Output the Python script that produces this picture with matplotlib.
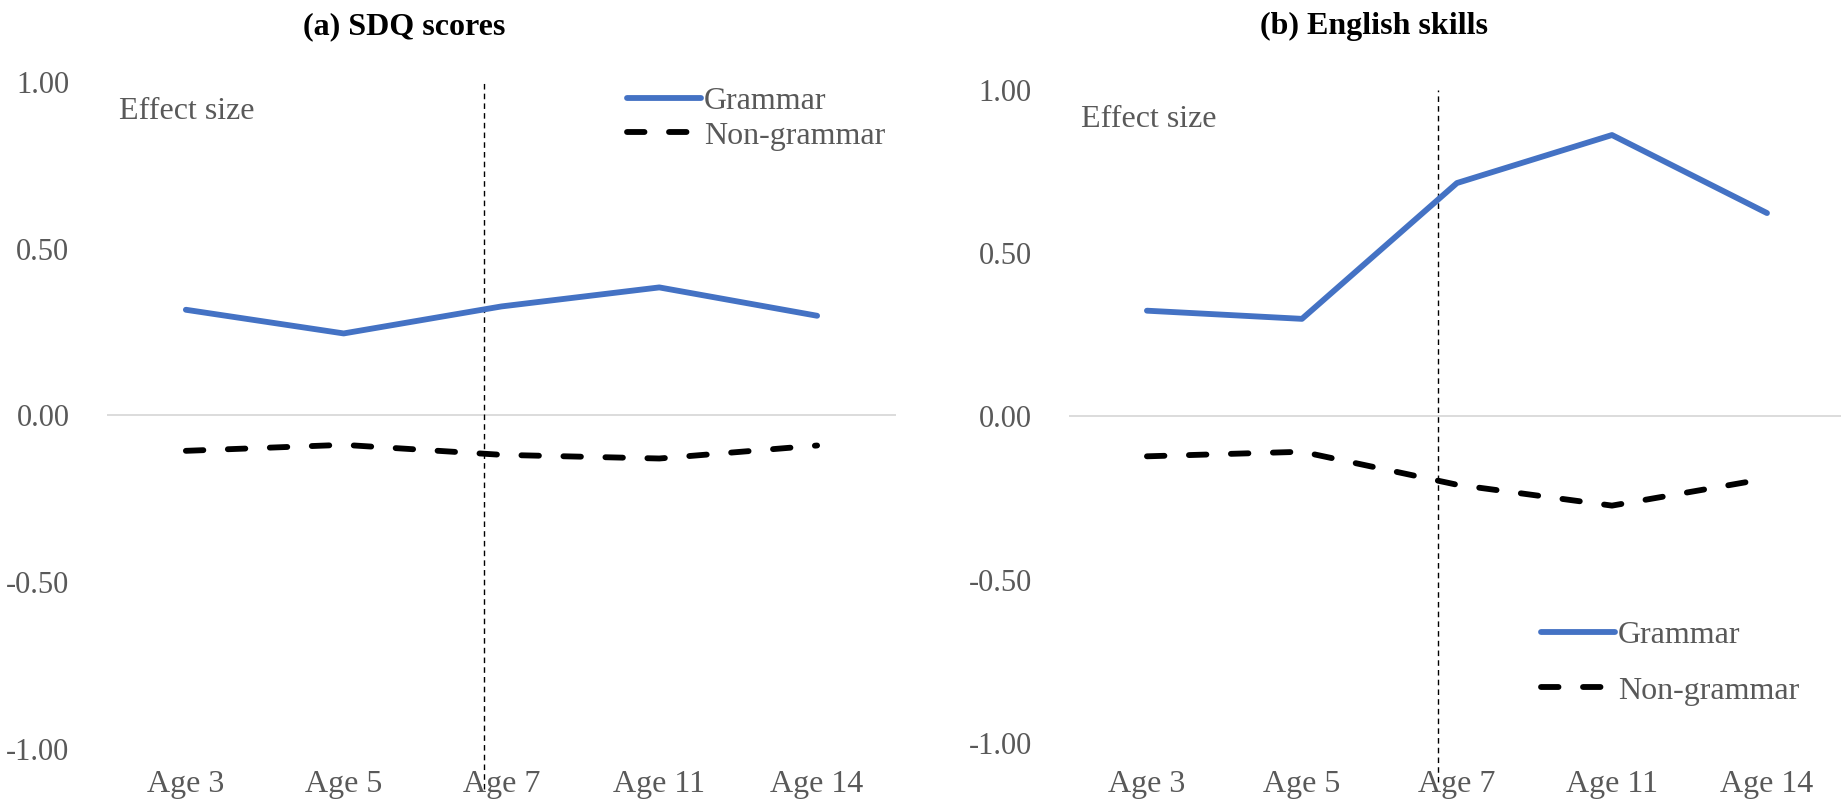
import numpy as np
import matplotlib.pyplot as plt

ages = ['Age 3', 'Age 5', 'Age 7', 'Age 11', 'Age 14']

# (a) SDQ scores
sdq_grammar = [0.317, 0.246, 0.327, 0.384, 0.299]
sdq_nongrammar = [-0.106, -0.088, -0.118, -0.129, -0.090]

# (b) English skills
eng_grammar = [0.324, 0.299, 0.715, 0.862, 0.623]
eng_nongrammar = [-0.122, -0.108, -0.209, -0.273, -0.190]

yticks = [1.0, 0.5, 0.0, -0.5, -1.0]

plt.rcParams['font.family'] = 'serif'
plt.rcParams['font.serif'] = ['Liberation Serif', 'DejaVu Serif']
grey = '#595959'
blue = '#4472C4'

fig = plt.figure(figsize=(18.41, 7.99), dpi=100)
ax1 = fig.add_axes([0.0581, 0.0626, 0.4286, 0.8348])
ax2 = fig.add_axes([0.5809, 0.0701, 0.4210, 0.8173])

def panel(ax, grammar, nongrammar, title, tpos, vline_x, leg_loc, xpad):
    x = np.arange(len(ages))
    ax.axhline(0, color='#D9D9D9', lw=1.3, zorder=1)
    ax.plot(x, grammar, color=blue, lw=4.2, solid_capstyle='round',
            solid_joinstyle='round', label='Grammar', zorder=3)
    ax.plot(x, nongrammar, color='black', lw=4.2, dashes=(3, 4.2),
            dash_capstyle='round', dash_joinstyle='round',
            label='Non-grammar', zorder=3)
    # divider between early and later ages
    ax.plot([vline_x, vline_x], [-1.12, 1.0], color='black', lw=1.0,
            dashes=(4, 3), clip_on=False, zorder=2)
    ax.set_xlim(-0.5, len(ages) - 0.5)
    ax.set_ylim(-1.0, 1.0)
    ax.set_xticks(x)
    ax.set_xticklabels(ages)
    ax.set_yticks(yticks)
    ax.set_yticklabels(['%.2f' % v for v in yticks])
    ax.tick_params(length=0, labelsize=22, colors=grey)
    ax.tick_params(axis='y', pad=27)
    ax.tick_params(axis='x', pad=xpad, labelsize=23)
    for s in ax.spines.values():
        s.set_visible(False)
    ax.text(0.015, 0.955, 'Effect size', transform=ax.transAxes,
            fontsize=23, color=grey, va='center', ha='left')
    fig.text(tpos[0], tpos[1], title, fontsize=23, fontweight='bold',
             ha='center', va='center')
    leg = ax.legend(loc=leg_loc[0], bbox_to_anchor=leg_loc[1], frameon=False,
                    fontsize=23, handlelength=2.3, handletextpad=0.1,
                    labelspacing=leg_loc[2], borderaxespad=0)
    for t in leg.get_texts():
        t.set_color(grey)

panel(ax1, sdq_grammar, sdq_nongrammar, '(a) SDQ scores', (0.2195, 0.967),
      1.89, ('upper left', (0.643, 1.012), 0.16), 15)
panel(ax2, eng_grammar, eng_nongrammar, '(b) English skills', (0.7463, 0.967),
      1.88, ('upper left', (0.592, 0.207), 0.82), 19.5)

fig.savefig('out.png', dpi=100)
